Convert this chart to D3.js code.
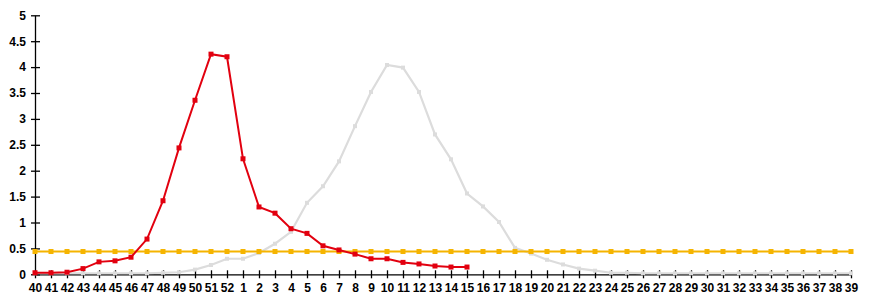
<!DOCTYPE html>
<html>
<head>
<meta charset="utf-8">
<script src="https://cdn.jsdelivr.net/npm/d3@7"></script>
<style>
  body { margin: 0; background: #fff; }
  .axis text { font-family: "Liberation Sans", Arial, sans-serif; font-size: 12px; font-weight: bold; fill: #000; }
</style>
</head>
<body>
<svg id="chart" width="870" height="300"></svg>
<script>
// week labels, 40 .. 52 then 1 .. 39
const weeks = ["40","41","42","43","44","45","46","47","48","49","50","51","52",
  "1","2","3","4","5","6","7","8","9","10","11","12","13","14","15","16","17","18","19","20",
  "21","22","23","24","25","26","27","28","29","30","31","32","33","34","35","36","37","38","39"];

// current season (stops at week 15)
const currentSeason = [0.03, 0.03, 0.04, 0.11, 0.24, 0.26, 0.33, 0.68, 1.42, 2.44, 3.36, 4.25, 4.20,
  2.23, 1.30, 1.18, 0.88, 0.79, 0.55, 0.47, 0.39, 0.30, 0.30, 0.23, 0.20, 0.16, 0.14, 0.14];

// previous season (grey)
const previousSeason = [0.02, 0.02, 0.02, 0.02, 0.02, 0.02, 0.02, 0.02, 0.03, 0.04, 0.09, 0.18, 0.30,
  0.30, 0.41, 0.59, 0.82, 1.38, 1.70, 2.18, 2.86, 3.52, 4.04, 3.99, 3.52, 2.70, 2.22, 1.56, 1.31, 1.01,
  0.51, 0.40, 0.28, 0.19, 0.11, 0.07, 0.03, 0.03, 0.02, 0.02, 0.02, 0.02, 0.02, 0.02, 0.02, 0.02,
  0.02, 0.02, 0.02, 0.02, 0.02, 0.02];

// epidemic threshold
const thresholdValue = 0.44;
const threshold = weeks.map(() => thresholdValue);

const yTicks = [0, 0.5, 1, 1.5, 2, 2.5, 3, 3.5, 4, 4.5, 5];

const svg = d3.select("#chart");
const x0 = 35, x1 = 851, yTop = 15.3, yBottom = 274.3;

const x = d3.scalePoint().domain(d3.range(weeks.length)).range([x0, x1]);
const y = d3.scaleLinear().domain([0, 5]).range([yBottom, yTop]);

// axes
const yAxis = svg.append("g").attr("class", "axis")
  .attr("transform", `translate(${x0},0)`)
  .call(d3.axisLeft(y).tickValues(yTicks).tickSizeInner(4).tickSizeOuter(0).tickPadding(5)
    .tickFormat(d => d));
yAxis.selectAll(".tick line").attr("x1", 5);

const xAxis = svg.append("g").attr("class", "axis")
  .attr("transform", `translate(0,${yBottom})`)
  .call(d3.axisBottom(x).tickSizeInner(4).tickSizeOuter(0).tickPadding(5)
    .tickFormat(i => weeks[i]));
xAxis.selectAll(".tick line").attr("y1", -4);
svg.selectAll(".axis path, .axis line").attr("stroke", "#000").attr("stroke-width", 1.3);

const line = d3.line().x((d, i) => x(i)).y(d => y(d));

function drawSeries(values, color, size, width) {
  const g = svg.append("g");
  g.append("path")
    .datum(values)
    .attr("fill", "none")
    .attr("stroke", color)
    .attr("stroke-width", width)
    .attr("d", line);
  g.selectAll("rect")
    .data(values)
    .enter()
    .append("rect")
    .attr("x", (d, i) => x(i) - size / 2)
    .attr("y", d => y(d) - size / 2)
    .attr("width", size)
    .attr("height", size)
    .attr("fill", color);
}

drawSeries(previousSeason, "#dcdcdc", 4, 2.2);
drawSeries(threshold, "#f5b400", 5, 2);
drawSeries(currentSeason, "#e2000f", 5, 2);
</script>
</body>
</html>
